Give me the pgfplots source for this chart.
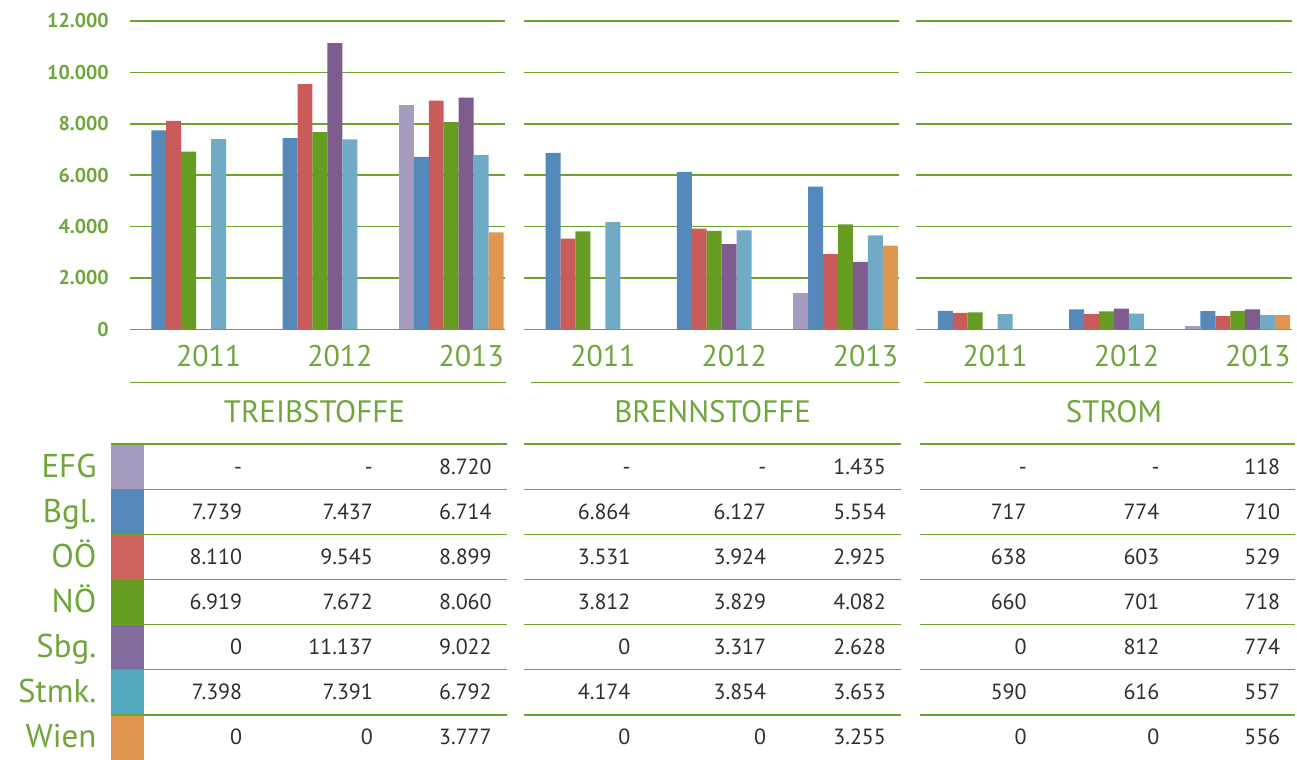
\documentclass[border=0pt]{standalone}
\usepackage{fontspec}
\setmainfont{PT Sans}
\usepackage{pgfplots}
\usepackage{pgfplotstable}
\pgfplotsset{compat=1.18}

% bar colours
\definecolor{cEFG}{HTML}{A69CC0}
\definecolor{cBgl}{HTML}{5588BB}
\definecolor{cOOE}{HTML}{C95C5A}
\definecolor{cNOE}{HTML}{669C22}
\definecolor{cSbg}{HTML}{7F5C8E}
\definecolor{cStmk}{HTML}{70AAC5}
\definecolor{cWien}{HTML}{E0964F}
% swatch colours in the table
\definecolor{sOOE}{HTML}{CD655E}
\definecolor{sSbg}{HTML}{826C9E}
\definecolor{sStmk}{HTML}{51A9BD}
\definecolor{txtgreen}{HTML}{6EA63A}
\definecolor{gridgreen}{HTML}{6BA42C}
\definecolor{basegreen}{HTML}{76944A}
\definecolor{numgray}{HTML}{2E2E2E}

% x: 0=2011, 1=2012, 2=2013; nan = no value ("-")
\pgfplotstableread{
x EFG Bgl OOE NOE Sbg Stmk Wien
0 nan 7739 8110 6919 0     7398 0
1 nan 7437 9545 7672 11137 7391 0
2 8720 6714 8899 8060 9022 6792 3777
}\treib
\pgfplotstableread{
x EFG Bgl OOE NOE Sbg Stmk Wien
0 nan 6864 3531 3812 0    4174 0
1 nan 6127 3924 3829 3317 3854 0
2 1435 5554 2925 4082 2628 3653 3255
}\brenn
\pgfplotstableread{
x EFG Bgl OOE NOE Sbg Stmk Wien
0 nan 717 638 660 0   590 0
1 nan 774 603 701 812 616 0
2 118 710 529 718 774 557 556
}\strom

\pgfplotsset{
  panel/.style={
    scale only axis, width=188pt, height=154.5pt,
    anchor=south west,
    xmin=-0.449, xmax=2.41, ymin=0, ymax=12000,
    ybar, bar width=0.114,
    axis line style={draw=none},
    major tick length=0pt,
    ytick={2000,4000,...,12000},
    ymajorgrids,
    major grid style={gridgreen, line width=0.75pt},
    extra y ticks={0},
    extra y tick style={grid style={basegreen, line width=1.2pt}},
    xtick={0,1,2}, xticklabels={2011,2012,2013},
    xticklabel style={anchor=center, font=\fontsize{15}{15}\selectfont,
      text=txtgreen, xshift=10pt, yshift=-13.5pt},
    yticklabel style={font=\bfseries\fontsize{10}{10}\selectfont,
      text=txtgreen, xshift=-7pt},
    scaled y ticks=false,
    /pgf/number format/1000 sep={.},
    /pgf/number format/assume math mode=true,
  },
  noyl/.style={yticklabels={}, extra y tick labels={}},
}

\newcommand\bars[1]{%
  \addplot[fill=cEFG,  draw=none, bar shift=-0.342] table[x=x,y=EFG]{#1};
  \addplot[fill=cBgl,  draw=none, bar shift=-0.228] table[x=x,y=Bgl]{#1};
  \addplot[fill=cOOE,  draw=none, bar shift=-0.114] table[x=x,y=OOE]{#1};
  \addplot[fill=cNOE,  draw=none, bar shift=0]      table[x=x,y=NOE]{#1};
  \addplot[fill=cSbg,  draw=none, bar shift=0.114]  table[x=x,y=Sbg]{#1};
  \addplot[fill=cStmk, draw=none, bar shift=0.228]  table[x=x,y=Stmk]{#1};
  \addplot[fill=cWien, draw=none, bar shift=0.342]  table[x=x,y=Wien]{#1};
}

\begin{document}
\begin{tikzpicture}
\begin{scope}[x=0.5pt,y=-0.5pt]
  \useasboundingbox (0,0) rectangle (1297,759);
\end{scope}

\begin{axis}[panel, at={(65pt,-165pt)}]
  \bars{\treib}
\end{axis}
\begin{axis}[panel, noyl, at={(262.5pt,-165pt)}]
  \bars{\brenn}
\end{axis}
\begin{axis}[panel, noyl, at={(459pt,-165pt)}]
  \bars{\strom}
\end{axis}

\begin{scope}[x=0.5pt,y=-0.5pt,
  num/.style={anchor=east, inner sep=0pt, text height=7.5pt, text depth=0pt,
    font=\fontsize{11}{11}\selectfont, text=numgray},
  lab/.style={inner sep=0pt, text height=10.5pt, text depth=0pt,
    font=\fontsize{15.5}{15.5}\selectfont, text=txtgreen}]
  % rules under the year labels
  \draw[gridgreen, line width=0.75pt] (130,383) -- (507,383);
  \draw[gridgreen, line width=0.75pt] (532,383) -- (902,383);
  \draw[gridgreen, line width=0.75pt] (926,383) -- (1295,383);
  % group titles
  \node[lab] at (315,413) {TREIBSTOFFE};
  \node[lab] at (714,413) {BRENNSTOFFE};
  \node[lab] at (1116,413) {STROM};
  % table rows
  \foreach \lab/\col/\a/\b/\c/\d/\e/\f/\g/\h/\i [count=\k from 0] in {
    EFG/cEFG/-/-/8.720/-/-/1.435/-/-/118,
    Bgl./cBgl/7.739/7.437/6.714/6.864/6.127/5.554/717/774/710,
    OÖ/sOOE/8.110/9.545/8.899/3.531/3.924/2.925/638/603/529,
    NÖ/cNOE/6.919/7.672/8.060/3.812/3.829/4.082/660/701/718,
    Sbg./sSbg/0/11.137/9.022/0/3.317/2.628/0/812/774,
    Stmk./sStmk/7.398/7.391/6.792/4.174/3.854/3.653/590/616/557,
    Wien/cWien/0/0/3.777/0/0/3.255/0/0/556}{
    \pgfmathsetmacro\ytop{445+45.2*\k}
    \pgfmathsetmacro\ybot{445+45.2*(\k+1)}
    \pgfmathsetmacro\yc{\ytop+22.6}
    \fill[\col] (111,\ytop) rectangle (144,\ybot);
    \node[lab, anchor=east, font=\fontsize{16.5}{16.5}\selectfont] at (97,\yc) {\lab};
    \node[num] at (243,\yc) {\a};
    \node[num] at (374,\yc) {\b};
    \node[num] at (493,\yc) {\c};
    \node[num] at (632,\yc) {\d};
    \node[num] at (768,\yc) {\e};
    \node[num] at (888,\yc) {\f};
    \node[num] at (1029,\yc) {\g};
    \node[num] at (1162,\yc) {\h};
    \node[num] at (1283,\yc) {\i};
  }
  \foreach \k in {0,...,6}{
    \pgfmathsetmacro\yl{445+45.2*\k}
    \draw[gridgreen, line width=0.75pt] (111,\yl) -- (508,\yl);
    \draw[gridgreen, line width=0.75pt] (525,\yl) -- (903,\yl);
    \draw[gridgreen, line width=0.75pt] (922,\yl) -- (1297,\yl);
  }
\end{scope}
\end{tikzpicture}
\end{document}
